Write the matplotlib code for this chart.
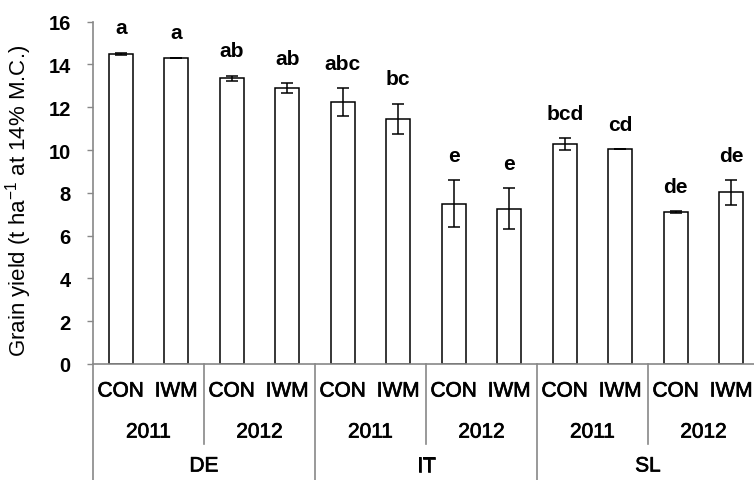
import matplotlib
matplotlib.use('Agg')
import matplotlib.pyplot as plt
import matplotlib.patheffects as pe
import numpy as np

plt.rcParams['font.family'] = ['Liberation Sans', 'DejaVu Sans']
plt.rcParams['mathtext.fontset'] = 'custom'
plt.rcParams['mathtext.rm'] = 'Liberation Sans'

# data
treatments = ['CON', 'IWM'] * 6
years = ['2011', '2012', '2011', '2012', '2011', '2012']
countries = ['DE', 'IT', 'SL']
yield_mean = [14.5, 14.3, 13.35, 12.9, 12.25, 11.45, 7.5, 7.25, 10.28, 10.05, 7.1, 8.02]
yield_err = [0.05, 0.02, 0.13, 0.22, 0.65, 0.72, 1.08, 0.96, 0.29, 0.0, 0.05, 0.57]
letters = ['a', 'a', 'ab', 'ab', 'abc', 'bc', 'e', 'e', 'bcd', 'cd', 'de', 'de']

W, H = 754, 481
fig = plt.figure(figsize=(W / 100, H / 100), dpi=100)
# axes reaches a bit past the right edge, like the cropped original
ax = fig.add_axes([93 / W, 116 / H, 666 / W, 342.3 / H])

# slightly heavier text, the original is a blurry scan
thick = [pe.withStroke(linewidth=0.5, foreground='black')]

x = np.arange(len(yield_mean))
ax.bar(x, yield_mean, width=0.43, color='white', edgecolor='black', linewidth=1.1, zorder=2)
ax.errorbar(x, yield_mean, yerr=yield_err, fmt='none', ecolor='black',
            elinewidth=1.1, capsize=4, capthick=1.1, zorder=3)

# significance letters
for i in range(len(x)):
    ax.annotate(letters[i], (x[i], yield_mean[i] + yield_err[i]), xytext=(0, 11),
                textcoords='offset points', ha='center', va='bottom',
                fontsize=15, fontweight='bold')

ax.set_xlim(-0.5, 11.5)
ax.set_ylim(0, 16)
ax.set_yticks(np.arange(0, 17, 2))
ax.tick_params(axis='y', length=4, width=1, color='#888888', pad=12, labelsize=14.5)
for lab in ax.get_yticklabels():
    lab.set_fontweight('bold')
ax.set_xticks([])

for s in ['top', 'right']:
    ax.spines[s].set_visible(False)
for s in ['left', 'bottom']:
    ax.spines[s].set_color('#888888')
    ax.spines[s].set_linewidth(1.2)

ax.set_ylabel(r'Grain yield (t ha$^{\mathregular{-1}}$ at 14% M.C.)', fontsize=16)
ax.yaxis.set_label_coords(-0.088, 0.48)

# hierarchical x labels
trans = ax.get_xaxis_transform()
for i in range(len(x)):
    ax.text(x[i], -0.079, treatments[i], transform=trans, ha='center', va='center',
            fontsize=15, path_effects=thick)
for j in range(len(years)):
    ax.text(2 * j + 0.5, -0.199, years[j], transform=trans, ha='center', va='center',
            fontsize=15, path_effects=thick)
for k in range(len(countries)):
    ax.text(4 * k + 1.5, -0.298, countries[k], transform=trans, ha='center', va='center',
            fontsize=15, path_effects=thick)

# separators
for j in range(1, len(years)):
    xs = 2 * j - 0.5
    if j % 2 == 0:
        ax.plot([xs, xs], [0, -0.4], transform=trans, color='#888888', lw=1.2, clip_on=False)
    else:
        ax.plot([xs, xs], [0, -0.234], transform=trans, color='#888888', lw=1.2, clip_on=False)
ax.plot([-0.5, -0.5], [0, -0.4], transform=trans, color='#888888', lw=1.2, clip_on=False)

fig.savefig('out.png', dpi=100)
